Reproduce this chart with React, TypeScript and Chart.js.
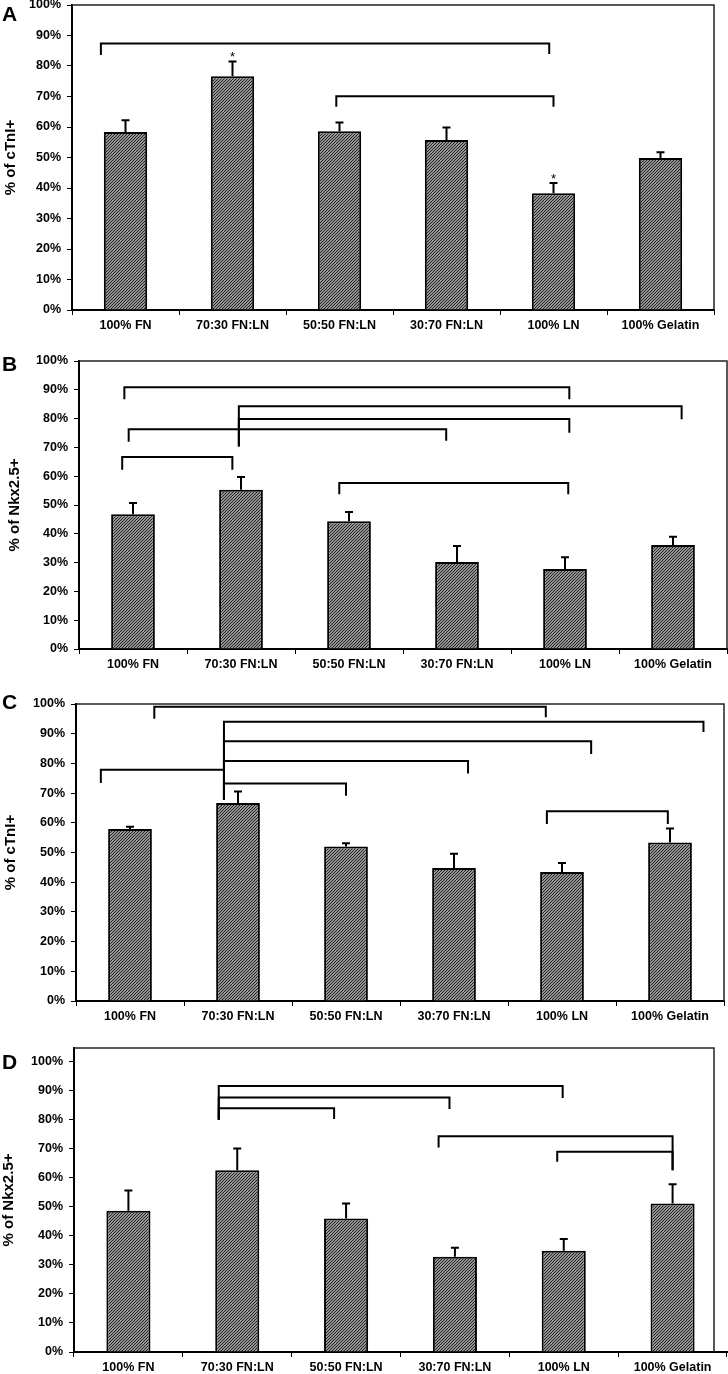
import React, { useEffect, useRef } from 'react';
import { Chart, registerables } from 'chart.js';

Chart.register(...registerables);
Chart.defaults.font.family = '"Liberation Sans", Arial, sans-serif';

// ---------- data ----------
const categories = ['100% FN', '70:30 FN:LN', '50:50 FN:LN', '30:70 FN:LN', '100% LN', '100% Gelatin'];
const yTickLabels = ['0%', '10%', '20%', '30%', '40%', '50%', '60%', '70%', '80%', '90%', '100%'];

// brackets: [fromCategoryIndex, toCategoryIndex, level %, left leg end %, right leg end %]
const meanA = [58.4, 76.6, 58.6, 55.7, 38.3, 49.8];
const errA = [3.8, 4.9, 2.9, 4.1, 3.3, 1.9];
const starsA = ['', '*', '', '', '*', ''];
const bracketsA = [
  [-0.23, 3.96, 87.4, 83.6, 83.9],
  [1.97, 4.0, 70.1, 66.6, 66.6],
];

const meanB = [46.8, 55.3, 44.4, 30.2, 27.8, 36.1];
const errB = [3.9, 4.4, 3.2, 5.6, 4.1, 2.9];
const starsB = ['', '', '', '', '', ''];
const bracketsB = [
  [-0.08, 4.04, 90.9, 86.7, 86.7],
  [0.98, 5.08, 84.3, 70.3, 79.8],
  [0.98, 4.04, 79.9, 70.3, 75.1],
  [-0.04, 2.9, 76.3, 72.0, 72.3],
  [-0.1, 0.92, 66.7, 62.2, 62.2],
  [1.91, 4.03, 57.6, 53.7, 53.7],
];

const meanC = [57.9, 66.7, 52.0, 44.8, 43.4, 53.4];
const errC = [0.8, 3.8, 1.1, 4.8, 3.1, 4.7];
const starsC = ['', '', '', '', '', ''];
const bracketsC = [
  [0.225, 3.85, 99.1, 95.0, 95.5],
  [0.87, 5.31, 94.0, 67.7, 90.6],
  [0.87, 4.27, 87.5, 67.7, 83.2],
  [0.87, 3.13, 80.8, 67.7, 76.6],
  [-0.27, 0.87, 77.9, 73.4, 77.9],
  [0.87, 2.0, 73.2, 67.7, 69.1],
  [3.86, 4.98, 63.9, 59.6, 59.6],
];

const meanD = [48.6, 62.5, 45.9, 32.8, 34.8, 51.1];
const errD = [7.0, 7.5, 5.2, 3.1, 4.1, 6.6];
const starsD = ['', '', '', '', '', ''];
const bracketsD = [
  [0.83, 3.99, 91.5, 79.9, 87.4],
  [0.83, 2.95, 87.6, 79.9, 83.6],
  [0.83, 1.89, 83.9, 79.9, 80.2],
  [2.85, 5.0, 74.2, 70.4, 62.5],
  [3.94, 5.0, 68.9, 65.5, 62.5],
];

// ---------- panel definitions ----------
const panels = [
  { letter: 'A', yTitle: '% of cTnI+', means: meanA, errs: errA, stars: starsA, brackets: bracketsA, yMax: 100,
    layout: { top: 0, height: 338, left: 72, right: 714, plotTop: 5, plotBottom: 310, titlePad: 2, letterY: 21, frameInset: 0 } },
  { letter: 'B', yTitle: '% of Nkx2.5+', means: meanB, errs: errB, stars: starsB, brackets: bracketsB, yMax: 100,
    layout: { top: 338, height: 338, left: 79, right: 727, plotTop: 23, plotBottom: 311, titlePad: 6, letterY: 33, frameInset: 0 } },
  { letter: 'C', yTitle: '% of cTnI+', means: meanC, errs: errC, stars: starsC, brackets: bracketsC, yMax: 100,
    layout: { top: 676, height: 356, left: 76, right: 724, plotTop: 28, plotBottom: 325, titlePad: 2, letterY: 33, frameInset: 0 } },
  { letter: 'D', yTitle: '% of Nkx2.5+', means: meanD, errs: errD, stars: starsD, brackets: bracketsD, yMax: 104.6,
    layout: { top: 1032, height: 342, left: 74, right: 727, plotTop: 16, plotBottom: 320, titlePad: 0, letterY: 37, frameInset: 13 } },
];

function makeHatch(): CanvasPattern | string {
  const c = document.createElement('canvas');
  c.width = 3;
  c.height = 3;
  const g = c.getContext('2d');
  if (!g) return '#777';
  g.fillStyle = '#c4c4c4';
  g.fillRect(0, 0, 3, 3);
  g.strokeStyle = '#1c1c1c';
  g.lineWidth = 1.1;
  g.beginPath();
  g.moveTo(-1, 4); g.lineTo(4, -1);
  g.moveTo(-1, 1); g.lineTo(1, -1);
  g.moveTo(2, 4); g.lineTo(4, 2);
  g.stroke();
  return g.createPattern(c, 'repeat') || '#777';
}

function Panel({ p }: { p: any }) {
  const ref = useRef<HTMLCanvasElement>(null);
  const L = p.layout;
  useEffect(() => {
    const canvas = ref.current;
    if (!canvas) return;
    const overlay = {
      id: 'overlay' + p.letter,
      afterDraw(chart: any) {
        const ctx = chart.ctx;
        const xs = chart.scales.x;
        const ys = chart.scales.y;
        const area = chart.chartArea;
        const meta = chart.getDatasetMeta(0);
        ctx.save();
        // frame (top & right)
        ctx.strokeStyle = '#222';
        ctx.lineWidth = 1.5;
        ctx.beginPath();
        ctx.moveTo(area.left, area.top);
        ctx.lineTo(area.right - L.frameInset, area.top);
        ctx.lineTo(area.right - L.frameInset, area.bottom);
        ctx.stroke();
        // error bars
        ctx.strokeStyle = '#000';
        ctx.lineWidth = 2;
        p.means.forEach((m: number, i: number) => {
          const el = meta.data[i];
          const yTop = ys.getPixelForValue(m + p.errs[i]);
          ctx.beginPath();
          ctx.moveTo(el.x, el.y);
          ctx.lineTo(el.x, yTop);
          ctx.moveTo(el.x - 4, yTop);
          ctx.lineTo(el.x + 4, yTop);
          ctx.stroke();
          if (p.stars[i]) {
            ctx.fillStyle = '#000';
            ctx.font = '13px "Liberation Sans", Arial, sans-serif';
            ctx.textAlign = 'center';
            ctx.textBaseline = 'alphabetic';
            ctx.fillText(p.stars[i], el.x, yTop - 0.5);
          }
        });
        // significance brackets
        const x0 = xs.getPixelForValue(0);
        const step = xs.getPixelForValue(1) - x0;
        const px = (v: number) => x0 + v * step;
        ctx.lineWidth = 2;
        ctx.lineCap = 'butt';
        p.brackets.forEach((b: number[]) => {
          ctx.beginPath();
          ctx.moveTo(px(b[0]), ys.getPixelForValue(b[3]));
          ctx.lineTo(px(b[0]), ys.getPixelForValue(b[2]));
          ctx.lineTo(px(b[1]), ys.getPixelForValue(b[2]));
          ctx.lineTo(px(b[1]), ys.getPixelForValue(b[4]));
          ctx.stroke();
        });
        // panel letter
        ctx.fillStyle = '#000';
        ctx.font = 'bold 21px "Liberation Sans", Arial, sans-serif';
        ctx.textAlign = 'left';
        ctx.textBaseline = 'alphabetic';
        ctx.fillText(p.letter, 2, L.letterY);
        ctx.restore();
      },
    };
    const chart = new Chart(canvas, {
      type: 'bar',
      data: {
        labels: categories,
        datasets: [{
          data: p.means,
          backgroundColor: makeHatch() as any,
          borderColor: '#000',
          borderWidth: 2,
          barPercentage: 0.405,
          categoryPercentage: 1,
        }],
      },
      options: {
        responsive: false,
        animation: false,
        devicePixelRatio: 1,
        layout: { padding: { left: 0, right: 728 - L.right, top: L.plotTop, bottom: 0 } },
        plugins: { legend: { display: false }, tooltip: { enabled: false }, title: { display: false } },
        scales: {
          x: {
            type: 'category',
            offset: true,
            grid: { offset: true, drawOnChartArea: false, drawTicks: true, tickLength: 5, color: '#000', lineWidth: 1 },
            border: { display: true, color: '#000', width: 2 },
            ticks: { color: '#000', font: { size: 12.5, weight: 'bold' }, padding: 3, maxRotation: 0, minRotation: 0, autoSkip: false },
            afterFit: (s: any) => { s.height = L.height - L.plotBottom; s.paddingLeft = 0; s.paddingRight = 0; },
          },
          y: {
            min: 0,
            max: p.yMax,
            ticks: {
              stepSize: 10,
              includeBounds: false,
              color: '#000',
              font: { size: 12.5, weight: 'bold' },
              padding: 6,
              callback: (v: any) => yTickLabels[Math.round(Number(v) / 10)],
            },
            afterBuildTicks: (s: any) => { s.ticks = s.ticks.filter((t: any) => t.value <= 100.001); },
            grid: { drawOnChartArea: false, drawTicks: true, tickLength: 5, color: '#000', lineWidth: 1 },
            border: { display: true, color: '#000', width: 2 },
            title: {
              display: true,
              text: p.yTitle,
              color: '#000',
              font: { size: 15, weight: 'bold' },
              padding: { top: L.titlePad, bottom: 0 },
            },
            afterFit: (s: any) => { s.width = L.left; s.paddingTop = 0; s.paddingBottom = 0; },
          },
        },
      } as any,
      plugins: [overlay],
    });
    return () => chart.destroy();
  }, []);
  return (
    <canvas
      ref={ref}
      width={728}
      height={L.height}
      style={{ position: 'absolute', left: 0, top: L.top, width: 728, height: L.height }}
    />
  );
}

export default function App() {
  return (
    <div style={{ position: 'absolute', left: 0, top: 0, width: 728, height: 1374, background: '#fff', overflow: 'hidden' }}>
      {panels.map((p) => (
        <Panel key={p.letter} p={p} />
      ))}
    </div>
  );
}
